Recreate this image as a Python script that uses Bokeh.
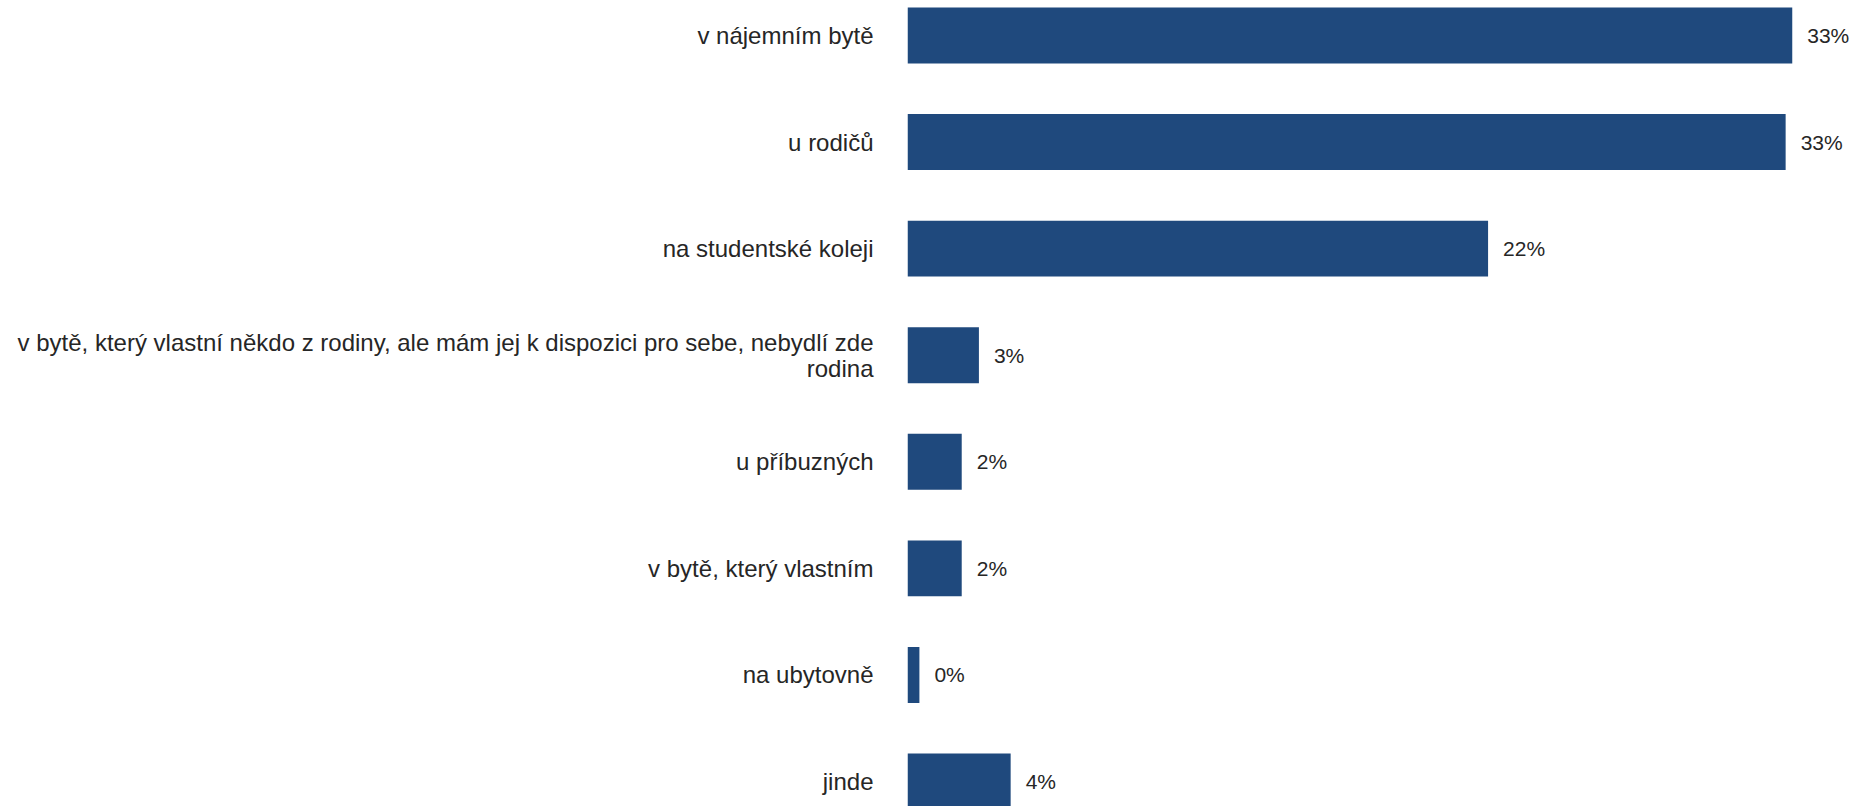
from bokeh.plotting import figure
from bokeh.models import ColumnDataSource, Range1d, FixedTicker
from bokeh.embed import file_html
from bokeh.resources import INLINE

categories = [
    "v nájemním bytě",
    "u rodičů",
    "na studentské koleji",
    "v bytě, který vlastní někdo z rodiny, ale mám jej k dispozici pro sebe, nebydlí zde\nrodina",
    "u příbuzných",
    "v bytě, který vlastním",
    "na ubytovně",
    "jinde",
]
values = [33.45, 33.2, 21.95, 2.7, 2.05, 2.05, 0.45, 3.9]
labels = [f"{round(v)}%" for v in values]

BAR_COLOR = "#1f497d"
TEXT_COLOR = "#262626"
FONT = "Liberation Sans"

W, H = 1854, 806
LEFT = 907
PX_PER_PCT = 26.45
BAND = 106.57
FIRST_CENTER = 35.0

idx = list(range(len(categories)))
src = ColumnDataSource(dict(y=idx, v=values, lab=labels))

y_top = -FIRST_CENTER / BAND
y_bot = y_top + H / BAND

p = figure(
    width=W, height=H,
    x_range=Range1d(0, (W - LEFT) / PX_PER_PCT),
    y_range=Range1d(y_bot, y_top),
    output_backend="svg", toolbar_location=None,
    min_border_left=LEFT, min_border_right=0, min_border_top=0, min_border_bottom=0,
)
p.outline_line_color = None
p.xgrid.visible = False
p.ygrid.visible = False
p.xaxis.visible = False

p.hbar(y="y", left=0, right="v", height=0.525, source=src,
       fill_color=BAR_COLOR, line_color=None)
p.text(x="v", y="y", text="lab", source=src, x_offset=15,
       text_align="left", text_baseline="middle",
       text_font_size="21px", text_color=TEXT_COLOR,
       text_font={"value": FONT})

ax = p.yaxis[0]
ax.ticker = FixedTicker(ticks=idx)
ax.major_label_overrides = {i: c for i, c in enumerate(categories)}
ax.axis_line_color = None
ax.major_tick_line_color = None
ax.minor_tick_line_color = None
ax.major_tick_out = 0
ax.major_tick_in = 0
ax.minor_tick_out = 0
ax.major_label_standoff = 34
ax.major_label_text_font = FONT
ax.major_label_text_font_size = "24px"
ax.major_label_text_line_height = 0.95
ax.major_label_text_color = TEXT_COLOR

open("out.html", "w").write(file_html(p, INLINE))
